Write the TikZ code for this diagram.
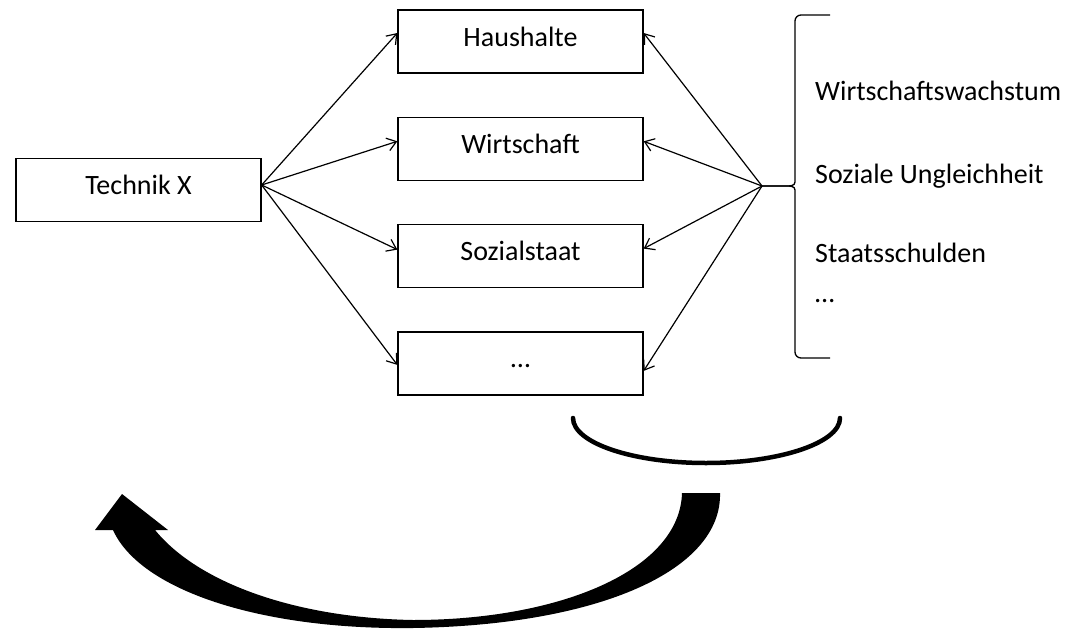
\documentclass[tikz,border=0pt]{standalone}
\usepackage{fontspec}
\setmainfont{Carlito}
\usetikzlibrary{positioning,arrows.meta}

\begin{document}
\begin{tikzpicture}[x=1pt,y=-1pt,node distance=43pt,
	box/.style={draw,line width=1.3pt,minimum width=245pt,minimum height=63pt,inner sep=0pt,
		font=\fontsize{28}{32}\selectfont,text height=18pt,text depth=9pt},
	arr/.style={-{Straight Barb[length=9pt,width=13pt]},line width=1.2pt},
	txt/.style={anchor=base west,inner sep=0pt,font=\fontsize{28}{32}\selectfont}]
\useasboundingbox (0,0) rectangle (1077,629);

\node[box](tech) at (138.5,190) {Technik X};
\node[box](hh) at (520.5,41.5) {Haushalte};
\node[box,below=of hh](wi) {Wirtschaft};
\node[box,below=of wi](so) {Sozialstaat};
\node[box,below=of so](dots) {…};

\coordinate(src) at ([yshift=5pt]tech.east);
\coordinate(hub) at (762,186);

\foreach \n/\a/\b in {hh/8.5/8.5,wi/7.5/7.5,so/6.5/7.5,dots/-1.5/-7.5}{
	\draw[arr](src)--([yshift=\a pt]\n.west);
	\draw[arr](hub)--([yshift=\b pt]\n.east);
}

% brace
\draw[line width=1.3pt,rounded corners=6pt](830,15)--(795,15)--(795,176)
	.. controls (795,186) and (790,186) .. (780,186)--(hub);
\draw[line width=1.3pt,rounded corners=6pt](hub)--(780,186)
	.. controls (790,186) and (795,186) .. (795,196)--(795,358)--(830,358);

\node[txt](wachstum) at (815,100) {Wirtschaftswachstum};
\node[txt](ungleich) at (815,183) {Soziale Ungleichheit};
\node[txt](schulden) at (815,262) {Staatsschulden};
\node[txt](mehr) at (815,302) {…};

% bowl
\draw[line width=4.5pt,line cap=round](573,418) .. controls (573,443) and (633,463) .. (706,463)
	.. controls (779,463) and (840,443) .. (840,418);

% feedback arrow
\fill (720,493) .. controls (722,570) and (600,625) .. (413,628)
	.. controls (260,630) and (140,590) .. (113,530)
	--(95,530)--(122,494)--(168,530)--(155,530)
	.. controls (200,585) and (300,618) .. (413,620)
	.. controls (560,620) and (680,570) .. (682,493)--cycle;

\end{tikzpicture}
\end{document}
